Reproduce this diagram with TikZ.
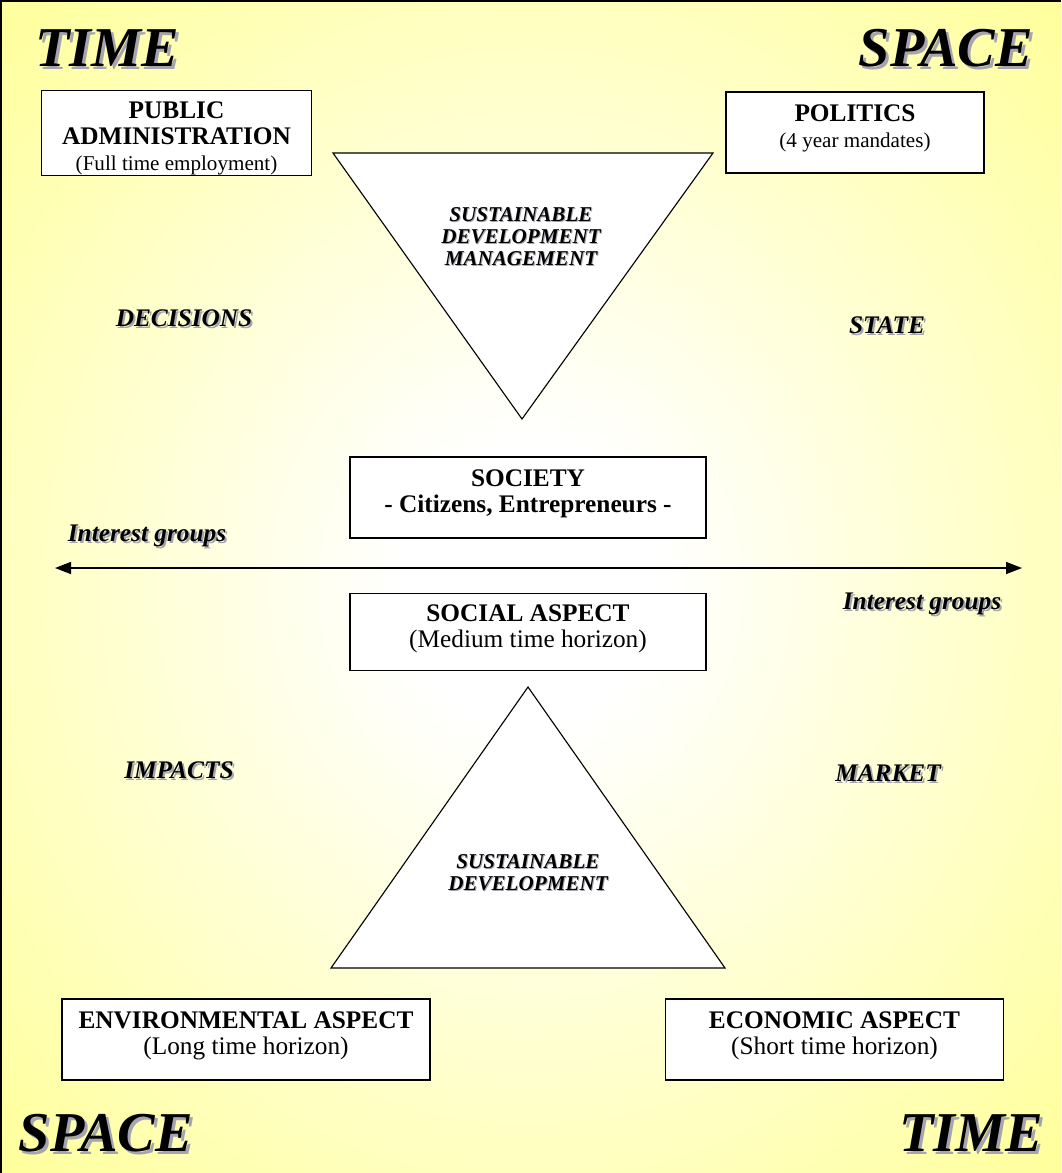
\documentclass[tikz,border=0pt]{standalone}
\usepackage{fontspec}
\setmainfont{Liberation Serif}
\usetikzlibrary{arrows.meta, positioning, calc}
\definecolor{bgyellow}{RGB}{255, 255, 153}
\definecolor{shadowgray}{RGB}{165, 165, 175}
\pgfdeclareradialshading{bgglow}{\pgfpoint{0bp}{0bp}}{color(0bp)=(white); color(6bp)=(white); color(36bp)=(bgyellow); color(50bp)=(bgyellow)}

% text with a grey drop copy behind it
\newcommand{\shadowtext}[5][2]{%
  \node[#2, text=shadowgray] at ($#4+(#1,#1)$) {#5};
  \node[#2] (#3) at #4 {#5};
}

\begin{document}
\begin{tikzpicture}[
        x=0.025cm, y=-0.025cm,
        infobox/.style={rectangle, draw, fill=white, line width=0.9pt, align=center, font=\fontsize{18}{18.6}\selectfont\bfseries},
        bigword/.style={font=\fontsize{40}{44}\selectfont\bfseries\itshape, inner sep=0pt},
        sidelabel/.style={font=\fontsize{18}{20}\selectfont\bfseries\itshape, inner sep=0pt},
        trilabel/.style={align=center, font=\fontsize{15}{15.6}\selectfont\bfseries\itshape, inner sep=0pt},
        trishape/.style={draw, fill=white, line width=0.8pt},
        twoway/.style={{Triangle[length=4mm, width=3mm]}-{Triangle[length=4mm, width=3mm]}, line width=1pt}
    ]
        \useasboundingbox (0,0) rectangle (1061,1173);
        % Background
        \shade[shading=bgglow] (0,0) rectangle (1061,1173);
        \draw[line width=1.2pt] (1,1173) -- (1,1) -- (1061,1);

        % Corner words
        \shadowtext[3]{bigword}{timetl}{(107,48)}{TIME}
        \shadowtext[3]{bigword}{spacetr}{(946,48)}{SPACE}
        \shadowtext[3]{bigword}{spacebl}{(106,1133)}{SPACE}
        \shadowtext[3]{bigword}{timebr}{(971,1133)}{TIME}

        % Triangles
        \coordinate (mtl) at (333,153);
        \coordinate (mtr) at (713,153);
        \coordinate (mbot) at (522,419);
        \draw[trishape] (mtl) -- (mtr) -- (mbot) -- cycle;
        \coordinate (dtop) at (528,687);
        \coordinate (dbl) at (331,968);
        \coordinate (dbr) at (725,968);
        \draw[trishape] (dtop) -- (dbr) -- (dbl) -- cycle;
        \shadowtext[1]{trilabel}{sdmtext}{(521,237)}{SUSTAINABLE\\DEVELOPMENT\\MANAGEMENT}
        \shadowtext[1]{trilabel}{sdtext}{(528,873)}{SUSTAINABLE\\DEVELOPMENT}

        % Boxes
        \node[infobox, inner ysep=0pt, minimum width=6.73cm, minimum height=2.05cm] (admin) at (176.5,133) {\mbox{}\\[1pt]PUBLIC\\ADMINISTRATION\\{\mdseries\fontsize{15}{16}\selectfont (Full time employment)}};
        \node[infobox, minimum width=6.45cm, minimum height=2.03cm] (politics) at (855,132.5) {POLITICS\\{\mdseries\fontsize{15}{16}\selectfont (4 year mandates)}\\[-9pt]\mbox{}};
        \node[infobox, minimum width=8.9cm, minimum height=2.03cm] (society) at (528,497.5) {SOCIETY\\- Citizens, Entrepreneurs -\\[-10pt]\mbox{}};
        \node[infobox, minimum width=8.9cm, minimum height=1.93cm, below=1.35cm of society] (social) {SOCIAL ASPECT\\{\mdseries (Medium time horizon)}\\[-10pt]\mbox{}};
        \node[infobox, minimum width=9.2cm, minimum height=2.03cm] (environ) at (246,1039.5) {ENVIRONMENTAL ASPECT\\{\mdseries (Long time horizon)}\\[-10pt]\mbox{}};
        \node[infobox, minimum width=8.43cm, minimum height=2.03cm] (economic) at (834.5,1039.5) {ECONOMIC ASPECT\\{\mdseries (Short time horizon)}\\[-10pt]\mbox{}};

        % Interest groups axis
        \coordinate (axisleft) at (55,568);
        \coordinate (axisright) at (1022,568);
        \draw[twoway] (axisleft) -- (axisright);
        \shadowtext{sidelabel}{interestl}{(147,536)}{Interest groups}
        \shadowtext{sidelabel}{interestr}{(922,604)}{Interest groups}

        % Side labels
        \shadowtext{sidelabel}{decisions}{(184,318)}{DECISIONS}
        \shadowtext{sidelabel}{state}{(887,325)}{STATE}
        \shadowtext{sidelabel}{impacts}{(179,770)}{IMPACTS}
        \shadowtext{sidelabel}{market}{(888,773)}{MARKET}
    \end{tikzpicture}
\end{document}
